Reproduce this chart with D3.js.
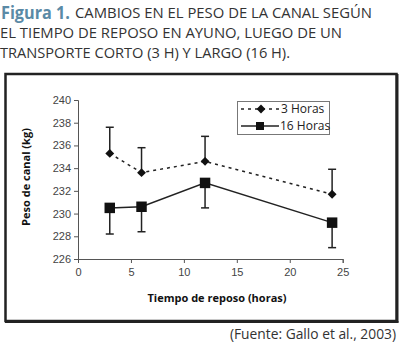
<!DOCTYPE html>
<html><head><meta charset="utf-8">
<script src="https://cdn.jsdelivr.net/npm/d3@7"></script>
<style>body{margin:0;background:#fff}svg{display:block}</style>
</head><body>
<svg id="c" width="400" height="346"></svg>
<script>
const hours = [3, 6, 12, 24];
const short3h = [235.3, 233.6, 234.6, 231.7];
const short3hErr = [2.3, 2.2, 2.2, 2.2];
const long16h = [230.5, 230.6, 232.7, 229.2];
const long16hErr = [2.3, 2.2, 2.2, 2.2];
const xTicks = [0, 5, 10, 15, 20, 25];
const yTicks = [226, 228, 230, 232, 234, 236, 238, 240];
const seriesNames = ["3 Horas", "16 Horas"];

const svg = d3.select("#c");
const x = d3.scaleLinear().domain([0, 25]).range([78, 342.7]);
const y = d3.scaleLinear().domain([226, 240]).range([259, 100]);

// title
const tf = "'Open Sans', sans-serif";
svg.append("text").attr("x", 1).attr("y", 18.5).attr("font-family", tf).attr("font-weight", "bold").attr("font-size", 17)
  .attr("fill", "#5a8aa6").attr("textLength", 69).attr("lengthAdjust", "spacingAndGlyphs").text("Figura 1.");
svg.append("text").attr("x", 75).attr("y", 18).attr("font-family", tf).attr("font-size", 15).attr("fill", "#333")
  .attr("textLength", 297).attr("lengthAdjust", "spacingAndGlyphs").text("CAMBIOS EN EL PESO DE LA CANAL SEGÚN");
svg.append("text").attr("x", 0).attr("y", 38).attr("font-family", tf).attr("font-size", 15).attr("fill", "#333")
  .attr("textLength", 342).attr("lengthAdjust", "spacingAndGlyphs").text("EL TIEMPO DE REPOSO EN AYUNO, LUEGO DE UN");
svg.append("text").attr("x", 0).attr("y", 58).attr("font-family", tf).attr("font-size", 15).attr("fill", "#333")
  .attr("textLength", 290).attr("lengthAdjust", "spacingAndGlyphs").text("TRANSPORTE CORTO (3 H) Y LARGO (16 H).");

// frame
svg.append("rect").attr("x", 5.5).attr("y", 74).attr("width", 391).attr("height", 247)
  .attr("fill", "none").attr("stroke", "#222").attr("stroke-width", 2.5);
svg.append("line").attr("x1", 397.5).attr("x2", 397.5).attr("y1", 74).attr("y2", 322.5).attr("stroke", "#222").attr("stroke-width", 2);
svg.append("line").attr("x1", 5).attr("x2", 398.5).attr("y1", 322).attr("y2", 322).attr("stroke", "#222").attr("stroke-width", 2);

// axes
const af = "'Liberation Sans', Arial, sans-serif";
const yAxis = svg.append("g").attr("transform", "translate(78,0)")
  .call(d3.axisLeft(y).tickValues(yTicks).tickSize(4).tickPadding(3));
const xAxis = svg.append("g").attr("transform", "translate(0,259)")
  .call(d3.axisBottom(x).tickValues(xTicks).tickSize(4).tickPadding(5));
[yAxis, xAxis].forEach(g => {
  g.select(".domain").attr("stroke", "#555");
  g.selectAll(".tick line").attr("stroke", "#555");
  g.selectAll("text").attr("font-family", af).attr("font-size", 11).attr("fill", "#444");
});

svg.append("text").attr("transform", "translate(30,177) rotate(-90)").attr("text-anchor", "middle")
  .attr("font-family", tf).attr("font-weight", "bold").attr("font-size", 11).attr("fill", "#111").text("Peso de canal (kg)");
svg.append("text").attr("x", 217).attr("y", 302).attr("text-anchor", "middle")
  .attr("font-family", tf).attr("font-weight", "bold").attr("font-size", 11).attr("fill", "#111").text("Tiempo de reposo (horas)");

// error bars
const eb = svg.append("g").attr("stroke", "#222").attr("stroke-width", 1.5);
hours.forEach((h, i) => {
  eb.append("line").attr("x1", x(h)).attr("x2", x(h)).attr("y1", y(short3h[i])).attr("y2", y(short3h[i] + short3hErr[i]));
  eb.append("line").attr("x1", x(h) - 4).attr("x2", x(h) + 4).attr("y1", y(short3h[i] + short3hErr[i])).attr("y2", y(short3h[i] + short3hErr[i]));
  eb.append("line").attr("x1", x(h)).attr("x2", x(h)).attr("y1", y(long16h[i])).attr("y2", y(long16h[i] - long16hErr[i]));
  eb.append("line").attr("x1", x(h) - 4).attr("x2", x(h) + 4).attr("y1", y(long16h[i] - long16hErr[i])).attr("y2", y(long16h[i] - long16hErr[i]));
});

// lines
const line = d3.line().x(d => x(d[0])).y(d => y(d[1]));
svg.append("path").datum(hours.map((h, i) => [h, short3h[i]])).attr("d", line)
  .attr("fill", "none").attr("stroke", "#222").attr("stroke-width", 1.5).attr("stroke-dasharray", "3,4");
svg.append("path").datum(hours.map((h, i) => [h, long16h[i]])).attr("d", line)
  .attr("fill", "none").attr("stroke", "#222").attr("stroke-width", 1.5);

// markers
const diamond = d3.symbol().type(d3.symbolDiamond2).size(50);
const square = d3.symbol().type(d3.symbolSquare).size(110);
hours.forEach((h, i) => {
  svg.append("path").attr("d", diamond()).attr("transform", `translate(${x(h)},${y(short3h[i])})`).attr("fill", "#111");
  svg.append("path").attr("d", square()).attr("transform", `translate(${x(h)},${y(long16h[i])})`).attr("fill", "#111");
});

// legend
const lg = svg.append("g");
lg.append("rect").attr("x", 237.5).attr("y", 101.5).attr("width", 92).attr("height", 33)
  .attr("fill", "#fff").attr("stroke", "#777").attr("stroke-width", 1);
lg.append("line").attr("x1", 241).attr("x2", 280).attr("y1", 109).attr("y2", 109)
  .attr("stroke", "#222").attr("stroke-width", 1.5).attr("stroke-dasharray", "3,4");
lg.append("path").attr("d", diamond()).attr("transform", "translate(261,109)").attr("fill", "#111");
lg.append("line").attr("x1", 241).attr("x2", 279).attr("y1", 126).attr("y2", 126)
  .attr("stroke", "#222").attr("stroke-width", 1.5);
lg.append("path").attr("d", d3.symbol().type(d3.symbolSquare).size(64)()).attr("transform", "translate(260,126)").attr("fill", "#111");
lg.append("text").attr("x", 281).attr("y", 113).attr("font-family", tf).attr("font-size", 12).attr("fill", "#222").text(seriesNames[0]);
lg.append("text").attr("x", 280).attr("y", 130).attr("font-family", tf).attr("font-size", 12).attr("fill", "#222").text(seriesNames[1]);

// source
svg.append("text").attr("x", 396).attr("y", 339).attr("text-anchor", "end")
  .attr("font-family", tf).attr("font-size", 13.8).attr("fill", "#333").text("(Fuente: Gallo et al., 2003)");
</script>
</body></html>
